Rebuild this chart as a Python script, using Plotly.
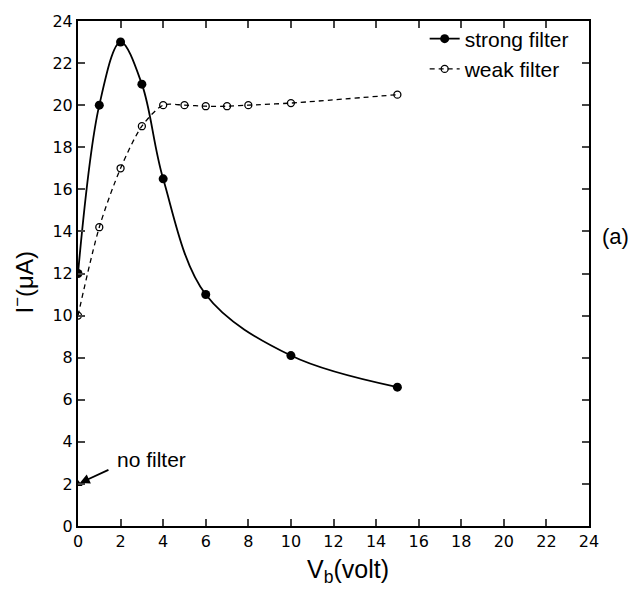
import plotly.graph_objects as go

vb_strong = [0, 1, 2, 3, 4, 6, 10, 15]
i_strong = [12, 20, 23, 21, 16.5, 11, 8.1, 6.6]
vb_weak = [0, 1, 2, 3, 4, 5, 6, 7, 8, 10, 15]
i_weak = [10, 14.2, 17, 19, 20, 20, 19.95, 19.95, 20, 20.1, 20.5]
vb_none = [0]
i_none = [2]
ticks = list(range(0, 25, 2))

font = dict(family="Liberation Sans, Arial, sans-serif", color="black")
tfont = dict(family="DejaVu Sans, sans-serif", color="black")

fig = go.Figure()
fig.add_trace(go.Scatter(x=vb_strong, y=i_strong, mode="lines+markers", name="strong filter",
                         line=dict(color="black", width=1.8, shape="spline", smoothing=1.0),
                         marker=dict(symbol="circle", size=9, color="black")))
fig.add_trace(go.Scatter(x=vb_weak, y=i_weak, mode="lines+markers", name="weak filter",
                         line=dict(color="black", width=1.3, dash="5px,4px", shape="spline", smoothing=0.8),
                         marker=dict(symbol="circle-open", size=7, color="black", line=dict(width=1.3))))
fig.add_trace(go.Scatter(x=vb_none, y=i_none, mode="markers", name="no filter", showlegend=False,
                         marker=dict(symbol="triangle-up", size=8, color="black")))

fig.add_annotation(x=0, y=2, ax=1.5, ay=2.7, xref="x", yref="y", axref="x", ayref="y",
                   text="", showarrow=True, arrowhead=2, arrowsize=1.1, arrowwidth=1.8, arrowcolor="black",
                   standoff=2)
fig.add_annotation(x=1.72, y=3.15, xref="x", yref="y", text="no filter", showarrow=False,
                   xanchor="left", yanchor="middle", font=dict(size=21, **font))
fig.add_annotation(x=1.021, y=0.574, xref="paper", yref="paper", text="(a)", showarrow=False,
                   xanchor="left", yanchor="middle", font=dict(size=22, **font))
fig.add_annotation(x=12.7, y=-0.09, xref="x", yref="paper", text="V<sub>b</sub>(volt)", showarrow=False,
                   xanchor="center", yanchor="middle", font=dict(size=25, **font))
fig.add_annotation(x=-0.108, y=0.482, xref="paper", yref="paper", text="I<sup>−</sup>(μA)", showarrow=False,
                   textangle=-90, xanchor="center", yanchor="middle", font=dict(size=24, **font))

axis_common = dict(range=[0, 24], tickvals=ticks, ticks="inside", ticklen=7, tickwidth=1.5,
                   showline=True, linecolor="black", linewidth=2, mirror="allticks",
                   showgrid=False, zeroline=False, tickfont=dict(size=16, **tfont))
fig.update_xaxes(**axis_common)
fig.update_yaxes(**axis_common)

fig.update_layout(width=631, height=589, margin=dict(l=78, r=42, t=16, b=63),
                  plot_bgcolor="white", paper_bgcolor="white",
                  legend=dict(x=0.97, y=1.005, xanchor="right", yanchor="top", bgcolor="rgba(0,0,0,0)",
                              font=dict(size=21, **font), tracegroupgap=0))
fig.write_html("out.html", config={"displayModeBar": False},
               post_script="document.body.style.margin='0';document.body.style.overflow='hidden';")
